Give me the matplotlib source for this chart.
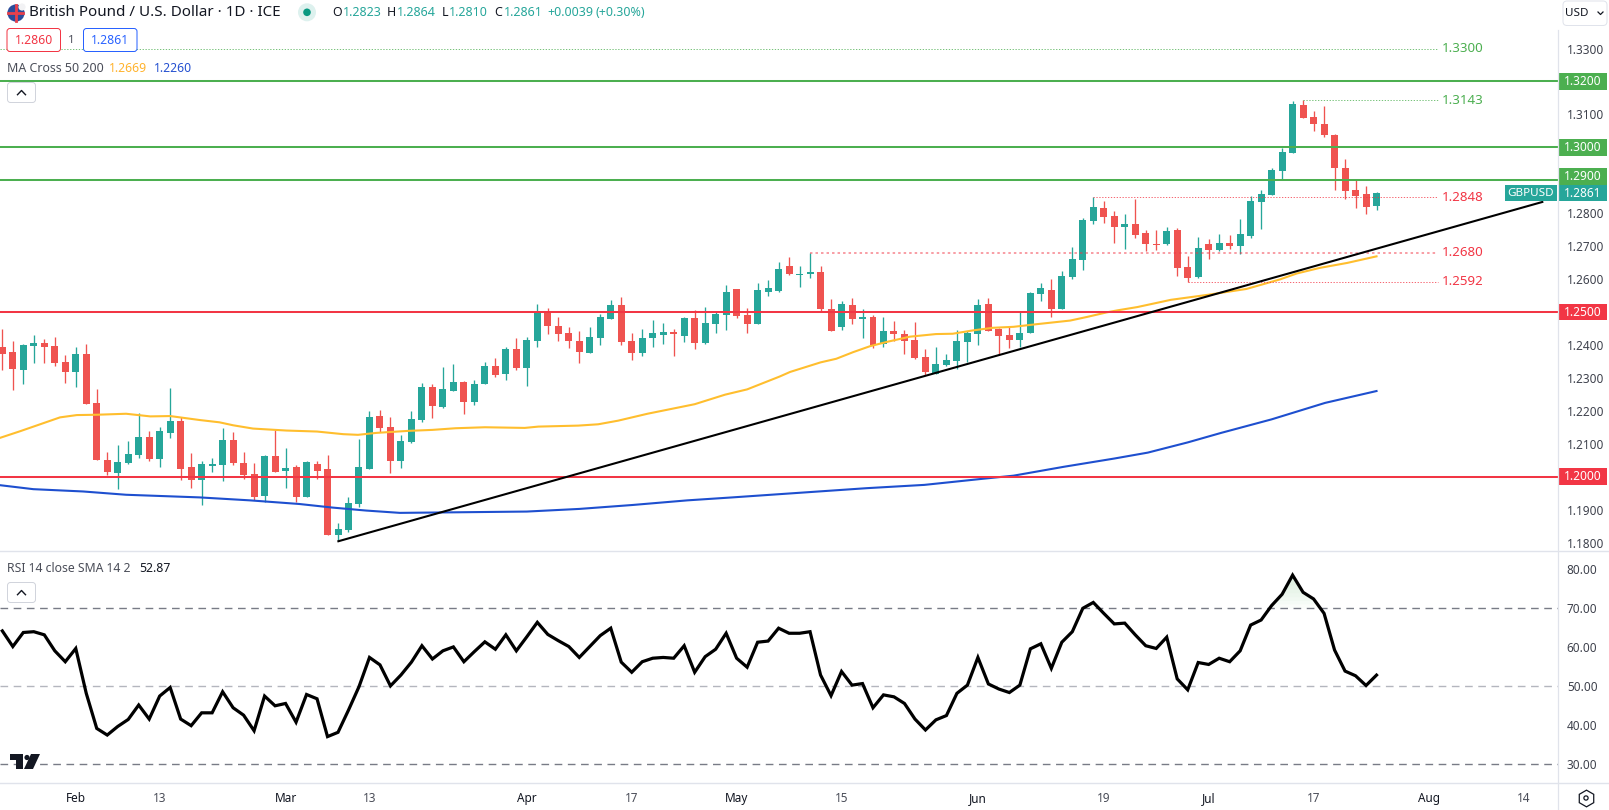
import numpy as np
import matplotlib
matplotlib.use("Agg")
import matplotlib.pyplot as plt
from matplotlib.patches import FancyBboxPatch, Rectangle, Circle, Polygon

plt.rcParams['font.family'] = ['Noto Sans', 'DejaVu Sans']

opens = [1.2393,1.2378,1.2323,1.2396,1.2405,1.2396,1.2348,1.2317,1.2372,1.2223,
1.2050,1.2011,1.2041,1.2065,1.2120,1.2053,1.2132,1.2169,1.2029,1.1990,
1.2032,1.2035,1.2111,1.2041,1.2008,1.1941,1.2062,1.2017,1.2029,1.1938,
1.2038,1.2023,1.1823,1.1838,1.1917,1.2023,1.2184,1.2150,1.2047,1.2105,
1.2172,1.2272,1.2212,1.2260,1.2288,1.2227,1.2281,1.2336,1.2312,1.2388,
1.2330,1.2412,1.2500,1.2458,1.2436,1.2412,1.2376,1.2421,1.2479,1.2521,
1.2412,1.2376,1.2421,1.2430,1.2439,1.2427,1.2482,1.2406,1.2464,1.2491,
1.2570,1.2491,1.2464,1.2561,1.2564,1.2639,1.2611,1.2614,1.2620,1.2508,
1.2453,1.2520,1.2478,1.2484,1.2402,1.2441,1.2432,1.2414,1.2362,1.2313,
1.2338,1.2350,1.2408,1.2432,1.2523,1.2447,1.2429,1.2414,1.2435,1.2554,
1.2566,1.2508,1.2605,1.2657,1.2775,1.2815,1.2793,1.2757,1.2766,1.2739,
1.2708,1.2705,1.2748,1.2638,1.2605,1.2705,1.2687,1.2711,1.2699,1.2732,
1.2833,1.2854,1.2927,1.2984,1.3130,1.3091,1.3072,1.3039,1.2936,1.2869,
1.2857,1.2823]
highs = [1.2448,1.2412,1.2402,1.2430,1.2418,1.2425,1.2369,1.2393,1.2402,1.2266,
1.2075,1.2096,1.2108,1.2193,1.2138,1.2150,1.2269,1.2181,1.2071,1.2047,
1.2056,1.2147,1.2135,1.2075,1.2041,1.2065,1.2141,1.2087,1.2035,1.2047,
1.2047,1.2065,1.1859,1.1938,1.2114,1.2199,1.2202,1.2181,1.2126,1.2200,
1.2285,1.2282,1.2333,1.2342,1.2291,1.2294,1.2348,1.2360,1.2394,1.2421,
1.2424,1.2524,1.2512,1.2485,1.2454,1.2442,1.2454,1.2494,1.2536,1.2546,
1.2436,1.2448,1.2476,1.2467,1.2448,1.2485,1.2506,1.2515,1.2500,1.2582,
1.2570,1.2512,1.2588,1.2597,1.2652,1.2666,1.2639,1.2680,1.2639,1.2538,
1.2532,1.2544,1.2508,1.2490,1.2484,1.2472,1.2444,1.2469,1.2387,1.2393,
1.2371,1.2444,1.2441,1.2538,1.2544,1.2450,1.2456,1.2499,1.2560,1.2587,
1.2599,1.2623,1.2696,1.2784,1.2848,1.2836,1.2806,1.2799,1.2842,1.2748,
1.2748,1.2757,1.2754,1.2669,1.2729,1.2723,1.2738,1.2735,1.2781,1.2851,
1.2869,1.2936,1.2997,1.3140,1.3143,1.3109,1.3127,1.3042,1.2966,1.2905,
1.2884,1.2864]
lows = [1.2323,1.2263,1.2281,1.2345,1.2345,1.2336,1.2284,1.2272,1.2220,1.2050,
1.2005,1.1962,1.2038,1.2056,1.2047,1.2029,1.2117,1.1990,1.1965,1.1914,
1.2014,1.1987,1.2035,1.1993,1.1929,1.1923,1.2014,1.1965,1.1923,1.1938,
1.1993,1.1823,1.1808,1.1832,1.1908,1.2023,1.2135,1.2011,1.2026,1.2102,
1.2166,1.2178,1.2209,1.2260,1.2190,1.2218,1.2281,1.2303,1.2294,1.2324,
1.2275,1.2394,1.2433,1.2412,1.2391,1.2345,1.2376,1.2400,1.2479,1.2400,
1.2354,1.2366,1.2394,1.2403,1.2366,1.2409,1.2388,1.2403,1.2436,1.2445,
1.2482,1.2436,1.2464,1.2549,1.2561,1.2611,1.2575,1.2602,1.2502,1.2441,
1.2444,1.2465,1.2420,1.2390,1.2393,1.2411,1.2371,1.2356,1.2308,1.2313,
1.2335,1.2326,1.2347,1.2399,1.2441,1.2368,1.2390,1.2393,1.2435,1.2532,
1.2484,1.2508,1.2599,1.2629,1.2766,1.2769,1.2711,1.2690,1.2726,1.2684,
1.2687,1.2702,1.2608,1.2592,1.2602,1.2660,1.2684,1.2690,1.2675,1.2726,
1.2751,1.2854,1.2905,1.2984,1.3088,1.3051,1.3030,1.2869,1.2842,1.2817,
1.2799,1.2810]
closes = [1.2372,1.2327,1.2399,1.2405,1.2393,1.2345,1.2317,1.2372,1.2220,1.2050,
1.2014,1.2044,1.2068,1.2120,1.2053,1.2138,1.2169,1.2023,1.1990,1.2038,
1.2038,1.2111,1.2041,1.2005,1.1938,1.2062,1.2014,1.2026,1.1938,1.2044,
1.2017,1.1823,1.1841,1.1920,1.2029,1.2181,1.2147,1.2047,1.2108,1.2175,
1.2272,1.2215,1.2266,1.2288,1.2227,1.2281,1.2336,1.2309,1.2388,1.2330,
1.2415,1.2497,1.2458,1.2433,1.2412,1.2379,1.2424,1.2485,1.2521,1.2409,
1.2376,1.2421,1.2436,1.2439,1.2433,1.2482,1.2406,1.2467,1.2494,1.2561,
1.2488,1.2464,1.2567,1.2573,1.2631,1.2614,1.2614,1.2620,1.2508,1.2441,
1.2523,1.2478,1.2484,1.2399,1.2441,1.2432,1.2411,1.2359,1.2317,1.2341,
1.2353,1.2411,1.2435,1.2520,1.2441,1.2426,1.2414,1.2435,1.2557,1.2572,
1.2508,1.2608,1.2660,1.2778,1.2818,1.2787,1.2757,1.2766,1.2733,1.2708,
1.2702,1.2745,1.2635,1.2602,1.2693,1.2687,1.2711,1.2699,1.2738,1.2836,
1.2857,1.2930,1.2987,1.3133,1.3088,1.3072,1.3036,1.2936,1.2866,1.2851,
1.2820,1.2861]

ma50_idx = [-0.2,1.7,3.6,5.5,7.1,9,11.8,14.1,16,18.8,20.7,22,23.9,27.1,30,32.5,33.9,35.7,
            38.7,41,43.2,46,49.8,51.1,54.9,56.8,58.7,61.5,66,68.9,71,74.1,75.1,78,79.5,81.1,82.7,84.3,
            86.5,89,90.6,92.5,94.4,96.4,98.6,101.8,103.4,105.3,106.3,108.2,111.4,115.1,118.6,121.8,
            123.4,125.6,128.2,131]
ma50_val = [1.2118,1.2138,1.2159,1.2180,1.2187,1.2188,1.2191,1.2183,1.2184,1.2172,1.2165,1.2156,1.2146,1.2140,1.2137,1.2129,1.2127,1.2133,
            1.2139,1.2142,1.2147,1.2150,1.2148,1.2152,1.2155,1.2159,1.2170,1.2191,1.2220,1.2249,1.2265,1.2304,1.2318,1.2347,1.2358,1.2378,1.2396,1.2409,
            1.2425,1.2433,1.2434,1.2444,1.2452,1.2455,1.2463,1.2474,1.2485,1.2499,1.2505,1.2515,1.2537,1.2553,1.2570,1.2599,
            1.2617,1.2634,1.2649,1.2669]
ma200_idx = [-0.2,2.95,7.7,11.8,18.8,23.6,28.3,31.5,34.7,37.9,41,50,55,60.1,65.3,69.6,76,82.4,
             87.9,93.3,96.4,101.2,106,109.2,113,116.2,121,126.1,131]
ma200_val = [1.1974,1.1962,1.1955,1.1945,1.1937,1.1928,1.1917,1.1906,1.1897,1.1890,1.1891,1.1894,1.1902,1.1914,1.1928,1.1937,1.1951,1.1965,
             1.1975,1.1993,1.2003,1.2030,1.2055,1.2073,1.2104,1.2133,1.2174,1.2224,1.2260]
trend_idx = [31.94, 146.9]
trend_val = [1.1803, 1.2835]

rsi = [64.2,60.2,63.8,64.0,63.2,59.1,56.3,59.7,48.2,39.2,37.5,39.7,41.5,45.2,41.6,47.5,49.7,41.6,39.9,43.2,
43.2,48.6,44.5,42.6,38.6,47.5,45.0,45.6,40.8,47.9,46.8,37.1,38.2,43.9,49.9,57.4,55.5,50.1,52.9,56.2,
60.4,57.0,59.1,60.1,56.3,58.9,61.4,59.5,63.2,59.1,62.7,66.4,63.3,61.7,60.2,57.4,60.2,63.0,64.9,56.2,
53.6,56.3,57.2,57.4,57.2,60.4,53.6,57.6,59.5,63.6,57.2,54.9,61.3,61.6,64.9,63.6,63.6,64.0,52.9,47.6,
53.8,50.3,50.7,44.5,47.8,47.3,45.6,41.6,38.8,41.4,42.5,48.2,50.3,57.4,50.6,49.3,48.4,50.3,59.6,60.9,
54.6,61.3,64.0,70.0,71.5,68.7,66.0,66.2,63.2,60.4,59.7,62.6,51.9,49.1,56.1,55.6,57.2,56.3,59.1,65.7,
67.0,70.7,73.6,78.5,74.1,72.4,68.7,59.3,53.9,52.7,50.2,52.87]

solid_green = [1.32, 1.30, 1.29]
solid_red = [1.25, 1.20]
price_ticks = [1.18,1.19,1.20,1.21,1.22,1.23,1.24,1.25,1.26,1.27,1.28,1.29,1.30,1.31,1.32,1.33]
rsi_ticks = [30,40,50,60,70,80]
xtick_idx = [7,15,27,35,50,60,70,80,93,105,115,125,136,145]
xtick_txt = ['Feb','13','Mar','13','Apr','17','May','15','Jun','19','Jul','17','Aug','14']
dotted_levels = [(1.33,-1,'#4CAF50',1.0,'1.3300',1.0),(1.3143,124,'#4CAF50',1.0,'1.3143',1.0),
                 (1.2848,104,'#F23645',1.0,'1.2848',1.0),(1.268,77,'#F23645',1.9,'1.2680',0.5),
                 (1.2592,113,'#F23645',1.0,'1.2592',1.0)]

W, H = 1609, 810
UP, DN = '#26A69A', '#EF5350'
GREEN, RED = '#4CAF50', '#F23645'
AXC = '#E0E3EB'
TXT = '#3F424D'
fig = plt.figure(figsize=(W/100, H/100), dpi=100, facecolor='white')

def axbox(x0, y0, x1, y1):
    return [x0/W, 1-y1/H, (x1-x0)/W, (y1-y0)/H]

AX_R, P_TOP, P_BOT, R_BOT = 1558.5, 30, 551.3, 783.3
ax = fig.add_axes(axbox(0, P_TOP, AX_R, P_BOT))
ar = fig.add_axes(axbox(0, P_BOT, AX_R, R_BOT))
px_per = 10.49
xl = (-2.33/px_per, (AX_R-2.33)/px_per)
PXU = 3293
ax.set_xlim(*xl); ax.set_ylim(1.25-(P_BOT-312)/PXU, 1.25+(312-P_TOP)/PXU)
ar.set_xlim(*xl); ar.set_ylim(30-(R_BOT-764.3)/3.9, 70+(608.3-P_BOT)/3.9)

idx = np.arange(len(closes))
o, h, l, c = map(np.array, (opens, highs, lows, closes))
cols = [UP if a >= b else DN for a, b in zip(c, o)]
ax.vlines(idx, l, h, colors=cols, linewidth=0.95, zorder=2)
ax.bar(idx, np.abs(c-o), bottom=np.minimum(o, c), width=0.667, color=cols, linewidth=0, zorder=3)
ax.plot(ma50_idx, ma50_val, color='#FFBE2E', lw=1.5, zorder=4)
ax.plot(ma200_idx, ma200_val, color='#1E4FCF', lw=1.5, zorder=4)
for v in solid_green:
    ax.axhline(v, color=GREEN, lw=1.45, zorder=5)
for v in solid_red:
    ax.axhline(v, color=RED, lw=1.45, zorder=5)
ax.plot(trend_idx, trend_val, color='black', lw=1.5, zorder=6, solid_capstyle='butt')
lab_end = (1438-2.33)/px_per
lab_x = (1441.5-2.33)/px_per
for v, st, col, lw, txt, al in dotted_levels:
    start = xl[0] if st < 0 else st
    ax.plot([start, lab_end], [v, v], color=col, lw=lw*0.72, dashes=(1.3, 1.6), alpha=0.75 if al == 1.0 else al, zorder=4)
    ax.text(lab_x, v, txt, color=col, fontsize=9.6, va='center', ha='left', zorder=7)

ar.plot(idx, rsi, color='black', lw=2.3, zorder=4, solid_joinstyle='miter')
ra = np.array(rsi, float)
for lev in [70, 71, 72, 73, 74, 75, 76]:
    ar.fill_between(idx, lev, ra, where=ra > lev, interpolate=True, color='#4CAF50', alpha=0.025, linewidth=0, zorder=1)
ar.axhline(70, color='#787B86', lw=1.0, dashes=(5.5, 4), zorder=2)
ar.axhline(50, color='#B4B6BE', lw=1.0, dashes=(5.5, 4), zorder=2)
ar.axhline(30, color='#787B86', lw=1.0, dashes=(5.5, 4), zorder=2)

for a in (ax, ar):
    for s in a.spines.values():
        s.set_visible(False)
    a.yaxis.tick_right()
    a.tick_params(axis='y', length=0, pad=6, labelsize=8.5, labelcolor=TXT)
ax.set_xticks([])
tagged = solid_green + solid_red
ax.set_yticks(price_ticks)
ax.set_yticklabels(['' if v in tagged else f'{v:.4f}' for v in price_ticks])
ar.set_yticks(rsi_ticks); ar.set_yticklabels([f'{v:.2f}' for v in rsi_ticks])
ar.set_xticks(xtick_idx); ar.set_xticklabels(xtick_txt)
ar.tick_params(axis='x', length=0, pad=6.0, labelsize=8.5)
for t, s in zip(ar.get_xticklabels(), xtick_txt):
    t.set_color('#131722' if s.isalpha() else '#4A4D58')

# overlay in pixel coordinates for chart furniture
ch = fig.add_axes([0, 0, 1, 1], zorder=10)
ch.set_xlim(0, W); ch.set_ylim(H, 0); ch.axis('off'); ch.patch.set_alpha(0)
fig.canvas.draw()

def ypx(v):
    return H - ax.transData.transform((0, v))[1]

def rbox(x0, y0, x1, y1, ec, fc='white', r=3, lw=1.0):
    ch.add_patch(FancyBboxPatch((x0+r, y0+r), x1-x0-2*r, y1-y0-2*r, boxstyle=f'round,pad={r},rounding_size={r}',
                                ec=ec, fc=fc, lw=lw*0.72, mutation_aspect=1))

ch.plot([AX_R, AX_R], [P_TOP, H], color=AXC, lw=0.9)
ch.plot([0, W], [P_BOT, P_BOT], color=AXC, lw=1.0)
ch.plot([0, W], [R_BOT, R_BOT], color=AXC, lw=1.0)

def tag(v, col, txt, dy=0):
    yc = ypx(v)+dy
    ch.add_patch(Rectangle((1558, yc-8.3), 49.5, 16.6, fc=col, ec='none'))
    ch.text(1582.5, yc, txt, color='white', fontsize=8.6, ha='center', va='center', fontweight='medium')

tag(1.32, GREEN, '1.3200')
tag(1.30, GREEN, '1.3000')
tag(1.29, GREEN, '1.2900', dy=-4)
tag(1.25, RED, '1.2500')
tag(1.20, RED, '1.2000')
tag(closes[-1], UP, f'{closes[-1]:.4f}')
yc = ypx(closes[-1])
ch.add_patch(Rectangle((1505, yc-8.3), 51.7, 16.6, fc=UP, ec='none'))
ch.text(1531, yc, 'GBPUSD', color='white', fontsize=8.4, ha='center', va='center')

# header
ch.add_patch(Circle((16, 13), 8.6, fc='#2B4C9B', ec='none'))
ch.plot([8.5, 23.5], [13, 13], color='#E8404C', lw=2)
ch.plot([16, 16], [5, 21], color='#E8404C', lw=2)
ch.add_patch(Circle((22, 7), 3.6, fc='#F2F2F4', ec='none'))
ch.text(29, 12.5, 'British Pound / U.S. Dollar · 1D · ICE', color='#131722', fontsize=10.95, va='center', ha='left')
ch.add_patch(Circle((307, 12.3), 9, fc='#DDF1EE', ec='none'))
ch.add_patch(Circle((307, 12.3), 3.8, fc='#089981', ec='none'))
for xt, s, col in [(332.5,'O','#131722'),(343,'1.2823',UP),(387,'H','#131722'),(397,'1.2864',UP),
                   (441.5,'L','#131722'),(449,'1.2810',UP),(494,'C','#131722'),(504,'1.2861',UP),
                   (547,'+0.0039',UP),(596,'(+0.30%)',UP)]:
    ch.text(xt, 13, s, color=col, fontsize=8.95, va='center', ha='left')
rbox(7, 28.5, 60.5, 51.5, RED)
ch.text(33.7, 40.3, '1.2860', color=RED, fontsize=8.8, ha='center', va='center')
ch.text(71.5, 40.3, '1', color='#50535E', fontsize=8.3, ha='center', va='center')
rbox(83.5, 28.5, 137, 51.5, '#2962FF')
ch.text(110.2, 40.3, '1.2861', color='#2962FF', fontsize=8.8, ha='center', va='center')
ch.text(7, 68.5, 'MA Cross 50 200', color='#4A4D58', fontsize=8.95, va='center', ha='left')
ch.text(109, 68.5, '1.2669', color='#FFB32C', fontsize=8.8, va='center', ha='left')
ch.text(154, 68.5, '1.2260', color='#2450D0', fontsize=8.8, va='center', ha='left')

def chevron(x0, y0, x1, y1):
    rbox(x0, y0, x1, y1, '#D1D4DC')
    xm, ym = (x0+x1)/2, (y0+y1)/2
    ch.plot([xm-4, xm, xm+4], [ym+2.2, ym-2, ym+2.2], color='#131722', lw=1.0)

chevron(7.5, 82.5, 35.5, 102.5)
ch.text(7, 568.3, 'RSI 14 close SMA 14 2', color='#4A4D58', fontsize=8.8, va='center', ha='left')
ch.text(139, 568.3, '52.87', color='#131722', fontsize=8.8, va='center', ha='left')
chevron(7.5, 582.5, 35.5, 602.5)

# logo
for pts in [[(10,754),(23,754),(23,769),(16.5,769),(16.5,760),(10,760)], [(31,754),(40,754),(33,769),(24,769)]]:
    ch.add_patch(Polygon(pts, closed=True, fc='#131722', ec='none'))
ch.add_patch(Circle((27, 757.5), 2.6, fc='#131722', ec='none'))

# currency button and settings
rbox(1563, 1, 1607, 25.5, '#E0E3EB', r=4)
ch.text(1576.5, 13, 'USD', color='#131722', fontsize=8.4, ha='center', va='center')
ch.plot([1598, 1600.5, 1603], [12, 14.5, 12], color='#131722', lw=0.9)
ch.plot([1586], [798], marker='h', ms=12, mfc='none', mec='#131722', mew=0.9)
ch.add_patch(Circle((1586, 798), 2.1, fc='none', ec='#131722', lw=0.9))

fig.savefig('out.png', dpi=100, facecolor='white')
